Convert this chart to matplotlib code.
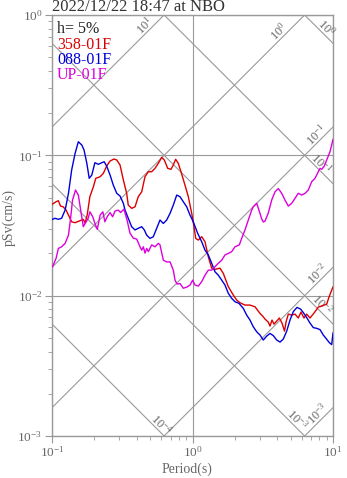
import numpy as np
import matplotlib
matplotlib.use("Agg")
import matplotlib.pyplot as plt
from matplotlib.ticker import NullFormatter

plt.rcParams['font.family'] = ['Liberation Serif', 'DejaVu Serif']
plt.rcParams['mathtext.fontset'] = 'custom'
plt.rcParams['mathtext.rm'] = 'Liberation Serif'

# pseudo velocity response spectra, h = 5%
period_ns = [0.101, 0.107, 0.111, 0.115, 0.120, 0.126, 0.131, 0.138, 0.146, 0.158,
             0.167, 0.172, 0.178, 0.186, 0.197, 0.205, 0.220, 0.232, 0.245, 0.259,
             0.276, 0.289, 0.305, 0.322, 0.340, 0.349, 0.369, 0.390, 0.411, 0.435,
             0.459, 0.485, 0.512, 0.541, 0.571, 0.604, 0.630, 0.666, 0.703, 0.730,
             0.759, 0.792, 0.828, 0.884, 0.934, 0.987, 1.025, 1.054, 1.100, 1.163,
             1.228, 1.296, 1.370, 1.446, 1.569, 1.657, 1.798, 1.951, 2.063, 2.178,
             2.363, 2.566, 2.786, 3.022, 3.190,
             3.281, 3.463, 3.562, 3.680, 3.803, 3.975, 4.148, 4.335, 4.517, 4.630,
             4.808, 5.082, 5.364, 5.662, 5.918, 6.216, 6.497, 6.860, 7.325, 7.861,
             8.489, 9.020, 9.366, 9.788, 10.0]
psv_ns = [0.0450, 0.0467, 0.0475, 0.0435, 0.0430, 0.0407, 0.0375, 0.0336, 0.0331, 0.0342,
          0.0350, 0.0329, 0.0375, 0.0507, 0.0597, 0.0686, 0.0704, 0.0744, 0.0839, 0.0911,
          0.0941, 0.0926, 0.0853, 0.0667, 0.0536, 0.0442, 0.0419, 0.0430, 0.0507, 0.0550,
          0.0704, 0.0764, 0.0764, 0.0808, 0.0877, 0.0968, 0.0926, 0.0808, 0.0795, 0.0853,
          0.0937, 0.0877, 0.0764, 0.0614, 0.0507, 0.0386, 0.0310, 0.0256, 0.0249, 0.0263,
          0.0242, 0.0189, 0.0157, 0.0154, 0.0157, 0.0144, 0.0116, 0.0101, 0.00930, 0.00890,
          0.00857, 0.00857, 0.00833, 0.00748, 0.00707,
          0.00681, 0.00648, 0.00607, 0.00670, 0.00627, 0.00659, 0.00693, 0.00638, 0.00559, 0.00648,
          0.00739, 0.00727, 0.00739, 0.00693, 0.00764, 0.00693, 0.00739, 0.00693, 0.00752, 0.00829,
          0.00850, 0.00871, 0.00977, 0.01096, 0.01152]

period_ew = [0.101, 0.105, 0.111, 0.117, 0.124, 0.131, 0.138, 0.146, 0.154, 0.163,
             0.169, 0.177, 0.184, 0.192, 0.202, 0.214, 0.226, 0.235, 0.245, 0.259,
             0.273, 0.289, 0.305, 0.322, 0.331, 0.349, 0.369, 0.390, 0.411, 0.435,
             0.454, 0.472, 0.498, 0.526, 0.556, 0.587, 0.620, 0.655, 0.692, 0.730,
             0.772, 0.815, 0.860, 0.909, 0.960, 1.013, 1.089, 1.163, 1.228, 1.296,
             1.370, 1.446, 1.526, 1.614, 1.703, 1.798, 1.901, 2.006, 2.143, 2.299,
             2.431, 2.566, 2.708, 2.864, 3.022, 3.190, 3.374, 3.562, 3.760, 3.975,
             4.197, 4.430, 4.683, 4.943, 5.218, 5.543, 5.871, 6.146, 6.497, 6.860,
             7.241, 7.656, 8.082, 8.531, 8.917, 9.412, 9.788, 10.0]
psv_ew = [0.0350, 0.0356, 0.0350, 0.0356, 0.0407, 0.0536, 0.0786, 0.1033, 0.1250, 0.1184,
          0.1091, 0.0877, 0.0686, 0.0724, 0.0886, 0.0863, 0.0886, 0.0900, 0.0839, 0.0724,
          0.0614, 0.0536, 0.0513, 0.0455, 0.0407, 0.0356, 0.0310, 0.0294, 0.0302, 0.0310,
          0.0294, 0.0270, 0.0256, 0.0263, 0.0302, 0.0346, 0.0327, 0.0346, 0.0386, 0.0442,
          0.0521, 0.0507, 0.0467, 0.0430, 0.0375, 0.0336, 0.0278, 0.0242, 0.0211, 0.0195,
          0.0170, 0.0148, 0.0140, 0.0129, 0.0119, 0.0104, 0.00957, 0.00905, 0.00881, 0.00812,
          0.00727, 0.00670, 0.00600, 0.00553, 0.00524, 0.00483, 0.00515, 0.00538, 0.00519, 0.00483,
          0.00467, 0.00491, 0.00559, 0.00670, 0.00770, 0.00825, 0.00803, 0.00758, 0.00698, 0.00638,
          0.00592, 0.00585, 0.00573, 0.00524, 0.00496, 0.00463, 0.00448, 0.00541]

period_ud = [0.101, 0.107, 0.111, 0.117, 0.124, 0.131, 0.136, 0.140, 0.147, 0.154,
             0.160, 0.167, 0.175, 0.181, 0.186, 0.195, 0.202, 0.210, 0.220, 0.230,
             0.238, 0.247, 0.259, 0.270, 0.281, 0.296, 0.308, 0.325, 0.342, 0.359,
             0.379, 0.401, 0.423, 0.435, 0.447, 0.459, 0.472, 0.485, 0.512, 0.541,
             0.571, 0.587, 0.620, 0.655, 0.692, 0.730, 0.751, 0.776, 0.815, 0.860,
             0.909, 0.960, 1.003, 1.042, 1.100, 1.163, 1.228, 1.296, 1.370, 1.446,
             1.526, 1.614, 1.703, 1.798, 1.901, 2.006, 2.154, 2.239, 2.363, 2.496,
             2.639, 2.708, 2.864, 2.940, 3.109, 3.190, 3.281, 3.463, 3.662, 3.867,
             4.082, 4.316, 4.553, 4.808, 5.082, 5.364, 5.662, 5.988, 6.320, 6.672,
             7.054, 7.446, 7.861, 8.082, 8.310, 8.674, 9.020, 9.520, 10.0]
psv_ud = [0.0161, 0.0185, 0.0217, 0.0223, 0.0236, 0.0270, 0.0365, 0.0480, 0.0566, 0.0521,
          0.0407, 0.0310, 0.0336, 0.0356, 0.0396, 0.0365, 0.0327, 0.0297, 0.0375, 0.0396,
          0.0336, 0.0365, 0.0391, 0.0365, 0.0401, 0.0407, 0.0391, 0.0414, 0.0346, 0.0279,
          0.0257, 0.0253, 0.0223, 0.0211, 0.0223, 0.0201, 0.0217, 0.0206, 0.0230, 0.0223,
          0.0236, 0.0230, 0.0179, 0.0174, 0.0174, 0.0152, 0.0129, 0.0121, 0.0122, 0.0113,
          0.0115, 0.0119, 0.0129, 0.0119, 0.0117, 0.0126, 0.0140, 0.0152, 0.0152, 0.0161,
          0.0170, 0.0179, 0.0195, 0.0200, 0.0206, 0.0223, 0.0230, 0.0256, 0.0294, 0.0346,
          0.0407, 0.0430, 0.0455, 0.0421, 0.0352, 0.0335, 0.0340, 0.0388, 0.0480, 0.0550,
          0.0580, 0.0536, 0.0480, 0.0435, 0.0455, 0.0494, 0.0536, 0.0521, 0.0536, 0.0566,
          0.0649, 0.0686, 0.0764, 0.0808, 0.0795, 0.0839, 0.0926, 0.1061, 0.1300]

# tripartite guide lines: acceleration (cm/s^2) and displacement (cm)
sa_levels = [10, 1, 0.1, 0.01, 0.001]
sa_labels = [r'$\mathdefault{10^{1}}$', r'$\mathdefault{10^{0}}$', r'$\mathdefault{10^{-1}}$',
             r'$\mathdefault{10^{-2}}$', r'$\mathdefault{10^{-3}}$']
sa_label_T = [0.49, 4.41, 8.22, 8.35, 8.35]
sd_levels = [1, 0.1, 0.01, 0.001, 0.0001]
sd_labels = [r'$\mathdefault{10^{0}}$', r'$\mathdefault{10^{-1}}$', r'$\mathdefault{10^{-2}}$',
             r'$\mathdefault{10^{-3}}$', r'$\mathdefault{10^{-4}}$']
sd_label_T = [8.35, 7.69, 7.82, 5.19, 0.559]

gray = '#999999'
txt_gray = '#666666'

fig = plt.figure(figsize=(3.47, 4.78), dpi=100)
ax = fig.add_axes([52 / 347, 1 - 436 / 478, 281 / 347, 421 / 478])
ax.set_xscale('log')
ax.set_yscale('log')

T_line = np.array([0.01, 100.0])
w = 2 * np.pi
for sa, lab, tl in zip(sa_levels, sa_labels, sa_label_T):
    ax.plot(T_line, sa * T_line / w, color=gray, lw=0.8, zorder=1)
    ax.annotate(lab, xy=(tl, sa * tl / w), xytext=(-3.2, 3.2), textcoords='offset points',
                rotation=45, rotation_mode='anchor', ha='center', va='center',
                fontsize=9, color=txt_gray)
for sd, lab, tl in zip(sd_levels, sd_labels, sd_label_T):
    ax.plot(T_line, w * sd / T_line, color=gray, lw=0.8, zorder=1)
    ax.annotate(lab, xy=(tl, w * sd / tl), xytext=(3.2, 3.2), textcoords='offset points',
                rotation=-45, rotation_mode='anchor', ha='center', va='center',
                fontsize=9, color=txt_gray)

ax.plot(period_ns, psv_ns, color='#dd0000', lw=1.0, zorder=3)
ax.plot(period_ew, psv_ew, color='#0000dd', lw=1.0, zorder=3)
ax.plot(period_ud, psv_ud, color='#dd00dd', lw=1.0, zorder=3)

ax.set_xlim(0.1, 10)
ax.set_ylim(0.001, 1)
ax.grid(True, which='major', color=gray, lw=0.8)
for s in ax.spines.values():
    s.set_color(gray)
    s.set_linewidth(1.0)
ax.tick_params(which='both', direction='out', colors=gray, labelcolor=txt_gray,
               labelsize=9.5, top=False, right=False)
ax.tick_params(which='major', length=5, pad=2)
ax.tick_params(axis='x', which='major', pad=1.5)
ax.tick_params(which='minor', length=3)
ax.xaxis.set_minor_formatter(NullFormatter())
ax.yaxis.set_minor_formatter(NullFormatter())

ax.set_xlabel('Period(s)', fontsize=10, color=txt_gray)
ax.xaxis.set_label_coords(0.482, -0.062)
ax.set_ylabel('pSv(cm/s)', fontsize=10, color=txt_gray)
ax.yaxis.set_label_coords(-0.13, 0.52)

ax.text(0.018, 0.967, 'h= 5%', transform=ax.transAxes, fontsize=11.5, color='#222222', va='center')
ax.text(0.018, 0.929, '358-01F', transform=ax.transAxes, fontsize=11.5, color='#dd0000', va='center')
ax.text(0.018, 0.893, '088-01F', transform=ax.transAxes, fontsize=11.5, color='#0000dd', va='center')
ax.text(0.018, 0.857, 'UP-01F', transform=ax.transAxes, fontsize=11.5, color='#dd00dd', va='center')

fig.text(52 / 347, 1 - 7 / 478, '2022/12/22 18:47 at NBO', fontsize=12, color='#333333',
         ha='left', va='center')

fig.savefig('out.png', dpi=100)
